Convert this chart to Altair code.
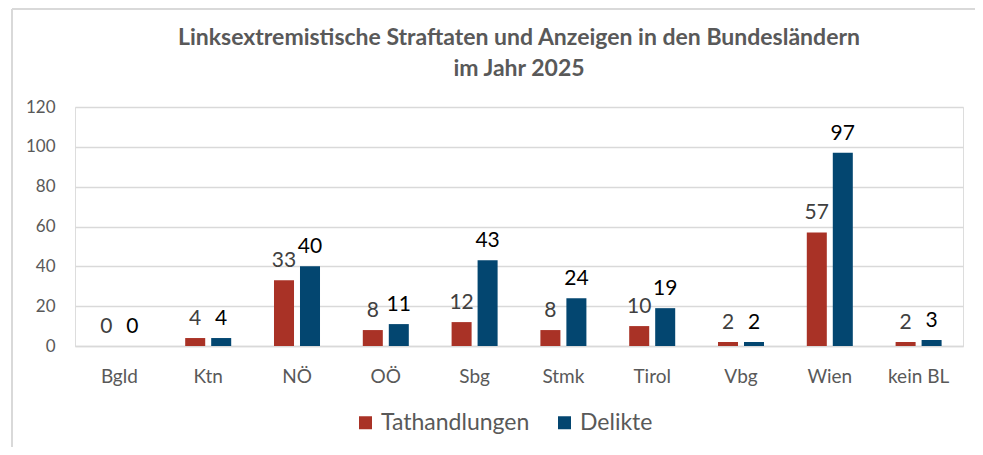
import altair as alt
import pandas as pd

categories = ["Bgld", "Ktn", "NÖ", "OÖ", "Sbg", "Stmk", "Tirol", "Vbg", "Wien", "kein BL"]
tathandlungen = [0, 4, 33, 8, 12, 8, 10, 2, 57, 2]
delikte = [0, 4, 40, 11, 43, 24, 19, 2, 97, 3]
series_names = ["Tathandlungen", "Delikte"]
series_colors = ["#A93226", "#034670"]
y_ticks = [0, 20, 40, 60, 80, 100, 120]
title_lines = ["Linksextremistische Straftaten und Anzeigen in den Bundesländern", "im Jahr 2025"]

rows = []
for c, t, d in zip(categories, tathandlungen, delikte):
    rows.append({"Bundesland": c, "Serie": series_names[0], "Wert": t})
    rows.append({"Bundesland": c, "Serie": series_names[1], "Wert": d})
df = pd.DataFrame(rows)

FONT = "Lato"
GRAY = "#595959"

x_scale = alt.Scale(domain=categories, paddingInner=0, paddingOuter=0)
xoff_scale = alt.Scale(domain=series_names, paddingInner=0.23, paddingOuter=0.823)
y_scale = alt.Scale(domain=[0, 120], nice=False)

x_axis = alt.Axis(labelAngle=0, labelFontSize=19, labelColor=GRAY, labelFont=FONT,
                  labelPadding=21, ticks=False, domainColor="#D9D9D9", domainWidth=1.5)
y_axis = alt.Axis(values=y_ticks, tickCount=7, labelOverlap=False,
                  labelFontSize=17, labelColor=GRAY, labelFont=FONT,
                  labelPadding=20, ticks=False, domain=False,
                  gridColor="#D9D9D9", gridWidth=1.5)

base = alt.Chart(df)

bars = base.mark_bar().encode(
    x=alt.X("Bundesland:N", sort=categories, title=None, scale=x_scale, axis=x_axis),
    xOffset=alt.XOffset("Serie:N", sort=series_names, scale=xoff_scale),
    y=alt.Y("Wert:Q", title=None, scale=y_scale, axis=y_axis),
    color=alt.Color("Serie:N", sort=series_names,
                    scale=alt.Scale(domain=series_names, range=series_colors),
                    legend=alt.Legend(title=None, orient="none", direction="horizontal",
                                      legendX=279, legendY=304,
                                      symbolType="square", symbolSize=169, symbolStrokeWidth=0,
                                      labelFontSize=23, labelColor=GRAY, labelFont=FONT,
                                      labelOffset=4, columnPadding=23)),
)

labels = base.mark_text(baseline="bottom", dy=-9, fontSize=21, font=FONT).encode(
    x=alt.X("Bundesland:N", sort=categories, title=None, scale=x_scale, axis=x_axis),
    xOffset=alt.XOffset("Serie:N", sort=series_names, scale=xoff_scale),
    y=alt.Y("Wert:Q", title=None, scale=y_scale, axis=y_axis),
    text=alt.Text("Wert:Q"),
    color=alt.condition(alt.datum.Serie == "Tathandlungen", alt.value("#404040"), alt.value("#000000")),
)

frame_data = alt.Data(values=[{"a": 1}])
title1 = alt.Chart(frame_data).mark_text(
    font=FONT, fontSize=23, fontWeight="bold", color=GRAY, baseline="middle", align="center"
).encode(text=alt.value(title_lines[0]), x=alt.value(444), y=alt.value(-69))
title2 = alt.Chart(frame_data).mark_text(
    font=FONT, fontSize=23, fontWeight="bold", color=GRAY, baseline="middle", align="center"
).encode(text=alt.value(title_lines[1]), x=alt.value(444), y=alt.value(-38))

left_line = alt.Chart(frame_data).mark_rule(color="#D9D9D9", strokeWidth=2).encode(
    x=alt.value(-63), y=alt.value(-98), y2=alt.value(340))
top_line = alt.Chart(frame_data).mark_rule(color="#D9D9D9", strokeWidth=2).encode(
    x=alt.value(-63), x2=alt.value(905), y=alt.value(-98))

chart = alt.layer(bars, labels, title1, title2, left_line, top_line).properties(
    width=888, height=239,
    autosize=alt.AutoSizeParams(type="none"),
    padding={"left": 67, "top": 99, "right": 12, "bottom": 101},
).configure_view(stroke=None).configure(background="white")

chart.save("out.html", embed_options={"renderer": "svg", "actions": False})
